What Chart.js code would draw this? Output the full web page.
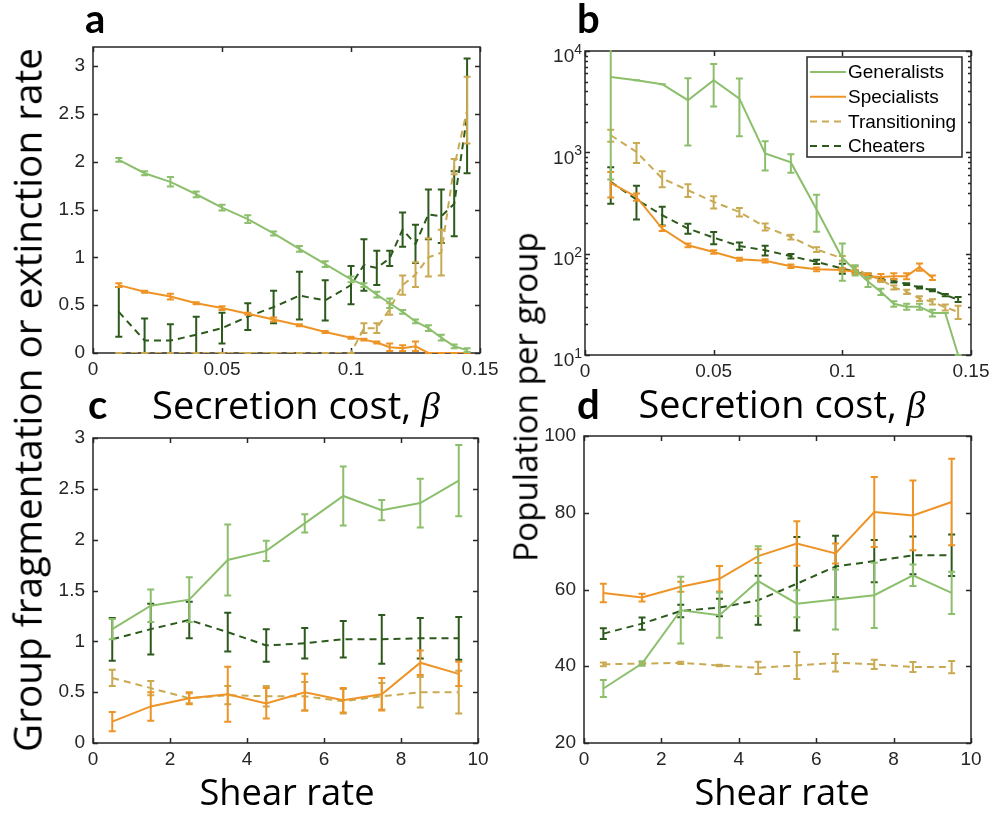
<!DOCTYPE html>
<html>
<head>
<meta charset="utf-8">
<script src="https://cdn.jsdelivr.net/npm/chart.js@4"></script>
<style>
body { margin:0; background:#fff; width:995px; height:815px; position:relative; overflow:hidden; font-family: 'Open Sans', sans-serif; }
canvas { position:absolute; }
.lbl { position:absolute; white-space:nowrap; line-height:1; color:#000; }
.panel { font-family: Lato, sans-serif; font-weight:bold; font-size:40px; }
.xt { transform: translateX(-50%); }
.yt { transform: translate(-50%,-50%) rotate(-90deg); }
.beta { font-family:'Liberation Serif', serif; font-style:italic; }
</style>
</head>
<body>
<canvas id="chA"></canvas>
<canvas id="chB"></canvas>
<canvas id="chC"></canvas>
<canvas id="chD"></canvas>

<div class="lbl panel" style="left:85px;top:-2px">a</div>
<div class="lbl panel" style="left:577px;top:-2px">b</div>
<div class="lbl panel" style="left:88px;top:384px">c</div>
<div class="lbl panel" style="left:577px;top:384px">d</div>

<div class="lbl xt" id="xtA">Secretion cost, <span class="beta">β</span></div>
<div class="lbl xt" id="xtB">Secretion cost, <span class="beta">β</span></div>
<div class="lbl xt" id="xtC">Shear rate</div>
<div class="lbl xt" id="xtD">Shear rate</div>

<div class="lbl yt" id="ytL">Group fragmentation or extinction rate</div>
<div class="lbl yt" id="ytR">Population per group</div>

<script>
// ---- data ----
const seriesNames = ['Generalists', 'Specialists', 'Transitioning', 'Cheaters']

const betaCost = [0.01, 0.02, 0.03, 0.04, 0.05, 0.06, 0.07, 0.08, 0.09, 0.1,
                  0.105, 0.11, 0.115, 0.12, 0.125, 0.13, 0.135, 0.14, 0.145]
const betaTicks = [0, 0.05, 0.1, 0.15]

// panel a : fragmentation / extinction rate vs secretion cost
const fragGen      = [2.02, 1.88, 1.79, 1.66, 1.52, 1.40, 1.25, 1.09, 0.93, 0.77, 0.71, 0.61, 0.52, 0.43, 0.33, 0.26, 0.16, 0.07, 0.03]
const fragGenErr   = [0.02, 0.02, 0.05, 0.03, 0.03, 0.04, 0.02, 0.03, 0.03, 0.03, 0.02, 0.03, 0.05, 0.02, 0.02, 0.03, 0.03, 0.02, 0.02]
const fragSpec     = [0.71, 0.64, 0.59, 0.52, 0.47, 0.41, 0.35, 0.29, 0.22, 0.16, 0.14, 0.11, 0.06, 0.05, 0.07, 0, 0, 0, 0]
const fragSpecErr  = [0.02, 0.01, 0.03, 0.01, 0.02, 0.01, 0.02, 0.01, 0.01, 0.01, 0.01, 0.01, 0.04, 0.03, 0.05, 0, 0, 0, 0]
const fragTrans    = [0, 0, 0, 0, 0, 0, 0, 0, 0, 0, 0.26, 0.26, 0.46, 0.71, 0.82, 1.0, 1.05, 1.95, 2.54]
const fragTransErr = [0, 0, 0, 0, 0, 0, 0, 0, 0, 0, 0.05, 0.05, 0.06, 0.1, 0.13, 0.2, 0.24, 0.08, 0.35]
const fragCheat    = [0.43, 0.13, 0.13, 0.19, 0.26, 0.38, 0.48, 0.60, 0.55, 0.71, 0.92, 0.89, 0.99, 1.29, 1.14, 1.45, 1.43, 1.56, 2.48]
const fragCheatErr = [0.26, 0.23, 0.17, 0.19, 0.16, 0.14, 0.17, 0.25, 0.21, 0.20, 0.27, 0.18, 0.08, 0.18, 0.20, 0.26, 0.28, 0.34, 0.60]
const fragTicks = [0, 0.5, 1, 1.5, 2, 2.5, 3]

// panel b : population per group vs secretion cost (log)
const popGen      = [5540, 5140, 4700, 3270, 5140, 3390, 973, 795, 273, 90, 69, 53, 42, 32, 30, 30, 26, 26, 10]
const popGenErr   = [5000, 0, 0, 2100, 2300, 1950, 310, 165, 108, 36, 8, 6, 3, 2, 2, 2, 2, 0, 0]
const popSpec     = [499, 363, 177, 121, 104, 88, 85, 75, 70, 69, 66, 60, 59, 60, 60, 74, 58, null, null]
const popSpecErr  = [140, 30, 10, 5, 4, 3, 3, 3, 3, 3, 3, 3, 4, 4, 4, 6, 3, null, null]
const popTrans    = [1475, 1010, 552, 423, 324, 258, 184, 146, 110, 90, 71.5, 61.4, 55.6, 46.4, 42, 36.1, 33.5, 29.5, 26.7]
const popTransErr = [200, 225, 100, 60, 45, 25, 15, 8, 6, 5, 3, 3, 3, 2, 2, 2, 2, 2, 4]
const popCheat    = [511, 342, 240, 177, 144, 119, 108, 94.5, 83, 71.5, 66, 61.4, 55.6, 54, 50, 46.4, 43.6, 39, 35.3]
const popCheatErr = [200, 125, 50, 20, 20, 10, 12, 5, 4, 8, 2, 2, 2, 2, 1, 1, 1, 1, 2]
const popTicks = [10, 100, 1000, 10000]

// panels c, d : vs shear rate
const shear = [0.5, 1.5, 2.5, 3.5, 4.5, 5.5, 6.5, 7.5, 8.5, 9.5]
const shearTicks = [0, 2, 4, 6, 8, 10]

const fragShearGen      = [1.12, 1.35, 1.41, 1.80, 1.89, 2.16, 2.43, 2.29, 2.36, 2.58]
const fragShearGenErr   = [0.1, 0.16, 0.22, 0.35, 0.1, 0.09, 0.29, 0.1, 0.24, 0.35]
const fragShearSpec     = [0.21, 0.36, 0.44, 0.48, 0.39, 0.50, 0.42, 0.48, 0.79, 0.68]
const fragShearSpecErr  = [0.095, 0.14, 0.06, 0.27, 0.15, 0.18, 0.12, 0.16, 0.12, 0.12]
const fragShearTrans    = [0.64, 0.54, 0.44, 0.47, 0.46, 0.46, 0.41, 0.46, 0.50, 0.50]
const fragShearTransErr = [0.08, 0.07, 0.05, 0.09, 0.1, 0.14, 0.12, 0.13, 0.15, 0.21]
const fragShearCheat    = [1.02, 1.12, 1.21, 1.09, 0.96, 0.98, 1.02, 1.02, 1.03, 1.03]
const fragShearCheatErr = [0.21, 0.25, 0.18, 0.19, 0.16, 0.15, 0.18, 0.24, 0.2, 0.21]

const popShearGen      = [34.2, 40.7, 54.6, 53.3, 62.2, 56.3, 57.4, 58.5, 63.7, 59.1]
const popShearGenErr   = [2.2, 0.6, 8.7, 5.9, 9.1, 3.5, 7.8, 8.5, 2.8, 5.5]
const popShearSpec     = [59.1, 57.9, 60.7, 62.8, 68.7, 72.0, 69.4, 80.2, 79.3, 82.8]
const popShearSpecErr  = [2.4, 1, 1.3, 3.3, 1.8, 5.8, 2.6, 9.1, 9.1, 11.3]
const popShearTrans    = [40.5, 40.7, 40.9, 40.2, 39.6, 40.2, 40.9, 40.5, 39.8, 39.8]
const popShearTransErr = [0.5, 0.3, 0.3, 0.2, 1.6, 3.5, 2.3, 1.2, 1.3, 1.6]
const popShearCheat    = [48.5, 51.1, 54.4, 55.3, 57.2, 61.5, 66.0, 67.4, 68.9, 68.9]
const popShearCheatErr = [1.4, 1.6, 1.6, 2.3, 6.4, 12.2, 8, 5.5, 4.9, 5.4]
const popShearTicks = [20, 40, 60, 80, 100]

// ---- styles ----
const colors = ['#8cbf6c', '#ee9426', '#c9aa52', '#2c5a1c']
const dashes = [[], [], [7, 5], [7, 5]]
const AXIS = '#262626'

Chart.defaults.font.family = "'Liberation Sans', Arial, sans-serif"
Chart.defaults.font.size = 19
Chart.defaults.color = AXIS

// error bars drawn right after each line so the layering follows dataset order
const errorBars = {
    id: 'errorBars',
    afterDatasetDraw(chart, args) {
        const ds = chart.data.datasets[args.index]
        if (!ds.errorBars) return
        const xs = chart.scales.x, ys = chart.scales.y, area = chart.chartArea
        const ctx = chart.ctx
        ctx.save()
        ctx.beginPath()
        ctx.rect(area.left, area.top - 1, area.right - area.left, area.bottom - area.top + 2)
        ctx.clip()
        ctx.strokeStyle = ds.borderColor
        ctx.lineWidth = 2
        ctx.setLineDash([])
        ds.data.forEach((p, i) => {
            const e = ds.errorBars[i]
            if (p.y == null || e == null) return
            const px = xs.getPixelForValue(p.x)
            const lo = p.y - e
            const yTop = ys.getPixelForValue(p.y + e)
            const yBot = (ys.type === 'logarithmic' && lo <= 0) ? area.bottom + 20 : ys.getPixelForValue(lo)
            ctx.beginPath()
            ctx.moveTo(px, yTop); ctx.lineTo(px, yBot)
            ctx.moveTo(px - 3.5, yTop); ctx.lineTo(px + 3.5, yTop)
            ctx.moveTo(px - 3.5, yBot); ctx.lineTo(px + 3.5, yBot)
            ctx.stroke()
        })
        ctx.restore()
    }
}

// matlab style box with ticks pointing inside, under the data
const matlabBox = {
    id: 'matlabBox',
    beforeDatasetsDraw(chart) {
        const ctx = chart.ctx, a = chart.chartArea
        const xs = chart.scales.x, ys = chart.scales.y
        ctx.save()
        ctx.strokeStyle = AXIS
        ctx.lineWidth = 1.5
        ctx.beginPath()
        xs.ticks.forEach(t => {
            const px = Math.round(xs.getPixelForValue(t.value)) + 0.5
            ctx.moveTo(px, a.bottom); ctx.lineTo(px, a.bottom - 5)
            ctx.moveTo(px, a.top); ctx.lineTo(px, a.top + 5)
        })
        ys.ticks.forEach(t => {
            const py = Math.round(ys.getPixelForValue(t.value)) + 0.5
            ctx.moveTo(a.left, py); ctx.lineTo(a.left + 5, py)
            ctx.moveTo(a.right, py); ctx.lineTo(a.right - 5, py)
        })
        if (ys.type === 'logarithmic') {
            popTicks.slice(0, -1).forEach(d => {
                for (let m = 2; m < 10; m++) {
                    const py = Math.round(ys.getPixelForValue(d * m)) + 0.5
                    ctx.moveTo(a.left, py); ctx.lineTo(a.left + 3, py)
                    ctx.moveTo(a.right, py); ctx.lineTo(a.right - 3, py)
                }
            })
        }
        ctx.stroke()
        ctx.strokeRect(a.left, a.top, a.right - a.left, a.bottom - a.top)
        ctx.restore()
    }
}

// 10^n labels for the log axis
const logLabels = {
    id: 'logLabels',
    afterDraw(chart) {
        const ctx = chart.ctx, a = chart.chartArea, ys = chart.scales.y
        ctx.save()
        ctx.fillStyle = AXIS
        ctx.textBaseline = 'middle'
        ctx.textAlign = 'right'
        popTicks.forEach(v => {
            const py = ys.getPixelForValue(v)
            const exp = String(Math.round(Math.log10(v)))
            ctx.font = "14px 'Liberation Sans', Arial, sans-serif"
            const ew = ctx.measureText(exp).width
            ctx.fillText(exp, a.left - 3, py - 1)
            ctx.font = "19px 'Liberation Sans', Arial, sans-serif"
            ctx.fillText('10', a.left - 3 - ew, py + 6)
        })
        ctx.restore()
    }
}

const legendBox = {
    id: 'legendBox',
    afterDraw(chart) {
        const ctx = chart.ctx, a = chart.chartArea
        const w = 155, h = 100
        const left = a.right - 9 - w, top = a.top + 6
        ctx.save()
        ctx.fillStyle = '#fff'
        ctx.fillRect(left, top, w, h)
        ctx.strokeStyle = AXIS
        ctx.lineWidth = 1.5
        ctx.strokeRect(left, top, w, h)
        ctx.font = "19px 'Liberation Sans', Arial, sans-serif"
        ctx.textBaseline = 'middle'
        ctx.textAlign = 'left'
        chart.data.datasets.forEach((ds, i) => {
            const y = top + 15 + i * 24.7
            ctx.strokeStyle = ds.borderColor
            ctx.lineWidth = 2
            ctx.setLineDash(ds.borderDash || [])
            ctx.beginPath()
            ctx.moveTo(left + 3, y); ctx.lineTo(left + 39, y)
            ctx.stroke()
            ctx.setLineDash([])
            ctx.fillStyle = '#000'
            ctx.fillText(ds.label, left + 41, y + 1)
        })
        ctx.restore()
    }
}

function toPoints(xs, ys) {
    return xs.map((x, i) => ({ x: x, y: ys[i] }))
}

function makeDatasets(xs, values, errs) {
    return values.map((v, k) => ({
        label: seriesNames[k],
        data: toPoints(xs, v),
        errorBars: errs[k],
        borderColor: colors[k],
        borderWidth: 2,
        borderDash: dashes[k],
        pointRadius: 0,
        tension: 0,
        fill: false,
        spanGaps: false
    }))
}

// box = plot area in page pixels
function makePanel(id, box, datasets, xOpt, yOpt, extraPlugins) {
    const padL = 80, padT = 20, padR = 30, padB = 35
    const canvas = document.getElementById(id)
    canvas.width = box.r - box.l + padL + padR
    canvas.height = box.b - box.t + padT + padB
    canvas.style.left = (box.l - padL) + 'px'
    canvas.style.top = (box.t - padT) + 'px'

    const xScale = Object.assign({
        type: 'linear',
        grid: { display: false, drawTicks: false },
        border: { display: false },
        ticks: { padding: 5, maxRotation: 0, autoSkip: false, callback: v => String(v) },
        afterFit: s => { s.height = padB }
    }, xOpt)
    const yScale = Object.assign({
        type: 'linear',
        grid: { display: false, drawTicks: false },
        border: { display: false },
        ticks: { padding: 8, autoSkip: false, callback: v => String(v) },
        afterFit: s => { s.width = padL }
    }, yOpt)

    return new Chart(canvas, {
        type: 'line',
        data: { datasets: datasets },
        options: {
            responsive: false,
            animation: false,
            events: [],
            layout: { padding: { left: 0, top: padT, right: padR, bottom: 0 } },
            plugins: { legend: { display: false }, tooltip: { enabled: false } },
            scales: { x: xScale, y: yScale }
        },
        plugins: [errorBars, matlabBox].concat(extraPlugins || [])
    })
}

const setTicks = arr => s => { s.ticks = arr.map(v => ({ value: v })) }

makePanel('chA', { l: 93, t: 47, r: 480, b: 353 },
    makeDatasets(betaCost, [fragGen, fragSpec, fragTrans, fragCheat],
        [fragGenErr, fragSpecErr, fragTransErr, fragCheatErr]),
    { min: 0, max: 0.15, afterBuildTicks: setTicks(betaTicks) },
    { min: 0, max: 3.2, afterBuildTicks: setTicks(fragTicks) })

makePanel('chB', { l: 585, t: 51, r: 971, b: 355 },
    makeDatasets(betaCost, [popGen, popSpec, popTrans, popCheat],
        [popGenErr, popSpecErr, popTransErr, popCheatErr]),
    { min: 0, max: 0.15, afterBuildTicks: setTicks(betaTicks) },
    { type: 'logarithmic', min: 10, max: 10000, afterBuildTicks: setTicks(popTicks),
      ticks: { display: false } },
    [logLabels, legendBox])

makePanel('chC', { l: 93, t: 438, r: 478, b: 743 },
    makeDatasets(shear, [fragShearGen, fragShearSpec, fragShearTrans, fragShearCheat],
        [fragShearGenErr, fragShearSpecErr, fragShearTransErr, fragShearCheatErr]),
    { min: 0, max: 10, afterBuildTicks: setTicks(shearTicks) },
    { min: 0, max: 3, afterBuildTicks: setTicks(fragTicks) })

makePanel('chD', { l: 584, t: 436, r: 971, b: 743 },
    makeDatasets(shear, [popShearGen, popShearSpec, popShearTrans, popShearCheat],
        [popShearGenErr, popShearSpecErr, popShearTransErr, popShearCheatErr]),
    { min: 0, max: 10, afterBuildTicks: setTicks(shearTicks) },
    { min: 20, max: 100, afterBuildTicks: setTicks(popShearTicks) })

// axis titles: size each one so it covers the same length as in the figure
function fitTitle(id, length, pos, baseline, rotated) {
    const el = document.getElementById(id)
    el.style.fontSize = '40px'
    const size = 40 * length / el.offsetWidth
    el.style.fontSize = size + 'px'
    if (rotated) {
        el.style.left = (baseline - 0.388 * size) + 'px'
        el.style.top = pos + 'px'
    } else {
        el.style.left = pos + 'px'
        el.style.top = (baseline - 0.888 * size) + 'px'
    }
}
fitTitle('xtA', 288, 296, 419, false)
fitTitle('xtB', 287, 782, 419, false)
fitTitle('xtC', 175, 287, 805, false)
fitTitle('xtD', 175, 782, 805, false)
fitTitle('ytL', 704, 400, 42, true)
fitTitle('ytR', 330, 397, 538, true)
</script>
</body>
</html>
